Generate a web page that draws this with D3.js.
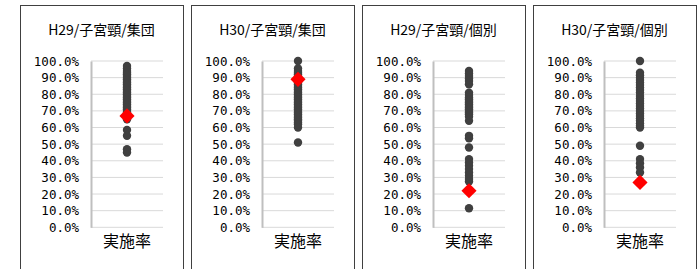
<!DOCTYPE html>
<html>
<head>
<meta charset="utf-8">
<script src="https://cdn.jsdelivr.net/npm/d3@7"></script>
<style>
  body { margin: 0; background: #fff; }
  .title { font-family: "Noto Sans CJK JP", sans-serif; font-size: 14px; fill: #000; }
  .tick text { font-family: "DejaVu Sans Mono", monospace; font-size: 12.5px; fill: #000; }
  .xlabel { font-family: "Noto Sans CJK JP", sans-serif; font-size: 16px; fill: #000; }
</style>
</head>
<body>
<svg width="697" height="269"></svg>
<script>
const titles = ["H29/子宮頸/集団", "H30/子宮頸/集団", "H29/子宮頸/個別", "H30/子宮頸/個別"];
const category = "実施率";
const yTicks = [0, 0.1, 0.2, 0.3, 0.4, 0.5, 0.6, 0.7, 0.8, 0.9, 1.0];

const h29Group = [97, 95.5, 94, 93, 92, 91, 90, 89, 88, 87, 86, 85, 84, 83, 82, 81, 80, 79, 78, 77,
  76, 75, 74, 73, 72, 71, 70, 69, 68, 66.5, 65, 58.5, 55, 47, 45];
const h30Group = [100, 95.5, 94, 93, 92, 91, 90, 88, 87, 86, 85, 84, 83, 82, 81, 80, 79, 78, 77, 76,
  75, 74, 73, 72, 71, 70, 69, 68, 67, 66, 65, 64, 63, 62, 60, 51];
const h29Indiv = [94, 92.5, 91, 89.5, 88, 86, 81, 79.5, 78, 77, 76, 75, 74, 73, 72, 71, 70, 69, 68,
  66.5, 64, 55, 53.5, 48, 41, 39, 37, 35, 33, 31, 29, 27.5, 11.5];
const h30Indiv = [100, 93, 91.5, 90, 88.5, 87, 85.5, 84, 82.5, 81, 79, 77.5, 76, 74.5, 73, 71.5, 70,
  68.5, 67, 65.5, 64, 62.5, 61, 60, 49, 41, 38.5, 36, 33];
const highlight = [67, 89, 22, 27];

const series = [h29Group, h30Group, h29Indiv, h30Indiv];

const svg = d3.select("svg");
svg.append("rect").attr("width", 697).attr("height", 269).attr("fill", "#fff");

const panelW = 163, panelX0 = 20, panelStep = 171, panelTop = 5;
const plot = { left: 71, right: 143, top: 56, bottom: 222.3 };

const y = d3.scaleLinear().domain([0, 1]).range([plot.bottom, plot.top]);
const x = d3.scaleBand().domain([category]).range([plot.left, plot.right]);
const fmt = d3.format(".1%");

series.forEach((vals, i) => {
  const g = svg.append("g")
    .attr("transform", `translate(${panelX0 + i * panelStep}, ${panelTop})`);

  g.append("rect")
    .attr("x", 0.5).attr("y", 0.5)
    .attr("width", panelW).attr("height", 300)
    .attr("fill", "#fff")
    .attr("stroke", "#404040");

  g.append("text")
    .attr("class", "title")
    .attr("x", panelW / 2)
    .attr("y", 25)
    .attr("dy", "0.35em")
    .attr("text-anchor", "middle")
    .text(titles[i]);

  // gridlines
  g.append("g")
    .selectAll("line")
    .data(yTicks)
    .join("line")
      .attr("x1", plot.left).attr("x2", plot.right)
      .attr("y1", d => y(d)).attr("y2", d => y(d))
      .attr("stroke", "#d9d9d9");

  const yAxis = g.append("g")
    .attr("class", "tick")
    .attr("transform", `translate(${plot.left}, 0)`)
    .call(d3.axisLeft(y).tickValues(yTicks).tickFormat(fmt).tickSize(0).tickPadding(12));
  yAxis.select(".domain").attr("stroke", "#bfbfbf").attr("stroke-width", 2);
  yAxis.selectAll("text").attr("class", null)
    .style("font-family", "'DejaVu Sans Mono', monospace")
    .style("font-size", "12.5px").attr("fill", "#000");

  g.append("text")
    .attr("class", "xlabel")
    .attr("x", x(category) + x.bandwidth() / 2)
    .attr("y", 236)
    .attr("dy", "0.35em")
    .attr("text-anchor", "middle")
    .text(category);

  g.append("g")
    .selectAll("circle")
    .data(vals)
    .join("circle")
      .attr("cx", x(category) + x.bandwidth() / 2)
      .attr("cy", d => y(d / 100))
      .attr("r", 4.2)
      .attr("fill", "#404040");

  g.append("path")
    .attr("d", d3.symbol(d3.symbolSquare, 115)())
    .attr("transform", `translate(${x(category) + x.bandwidth() / 2}, ${y(highlight[i] / 100)}) rotate(45)`)
    .attr("fill", "#ff0000");
});
</script>
</body>
</html>
